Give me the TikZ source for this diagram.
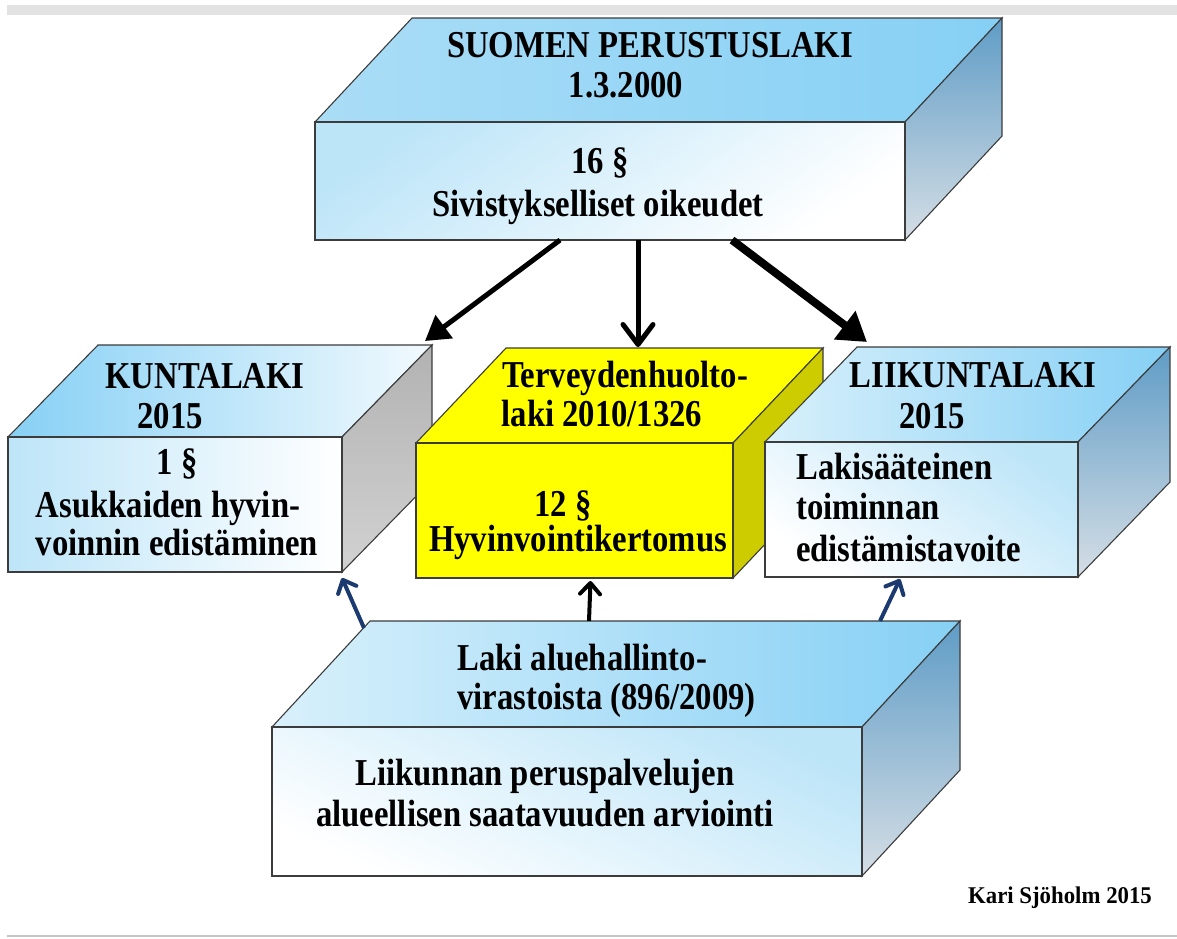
\documentclass[tikz,border=0pt]{standalone}
\usepackage{fontspec}
\setmainfont{Liberation Serif}[FakeStretch=0.86]
\newfontfamily\sigfont{Liberation Serif}[FakeStretch=0.95]
\usetikzlibrary{arrows.meta}
\definecolor{edgec}{HTML}{3C3C3C}
\definecolor{bandc}{HTML}{E2E2E2}
\definecolor{linec}{HTML}{C4C4C4}
\definecolor{skyA}{HTML}{86D0F5}
\definecolor{skyB}{HTML}{AADDF6}
\definecolor{skyC}{HTML}{D8F0FB}
\definecolor{skyF}{HTML}{BDE5F8}
\definecolor{steelA}{HTML}{5F9CC6}
\definecolor{steelB}{HTML}{D5DEE5}
\definecolor{greyS}{HTML}{C6C6C6}
\definecolor{ylw}{HTML}{FFFF00}
\definecolor{ylwD}{HTML}{CCCC00}
\definecolor{navy}{HTML}{1B3B70}
\newcommand\solidbox[7]{%
  \coordinate (#1-bl) at (#2+#6,#3-#7);
  \coordinate (#1-br) at (#4+#6,#3-#7);
  \shade[edge,#1top] (#2,#3) -- (#1-bl) -- (#1-br) -- (#4,#3) -- cycle;
  \shade[edge,#1side] (#4,#3) -- (#1-br) -- (#4+#6,#5-#7) -- (#4,#5) -- cycle;
  \node[edge,#1front,anchor=north west,inner sep=0pt,outer sep=0pt,
        minimum width={(#4-#2)*1pt}, minimum height={(#5-#3)*1pt}] (#1) at (#2,#3) {};
}
\begin{document}
\begin{tikzpicture}[x=1pt,y=-1pt,
  edge/.style={draw=edgec, line width=1.1pt, line join=miter},
  txt/.style={font=\fontsize{38}{44}\selectfont\bfseries, inner sep=0pt},
  sig/.style={font=\sigfont\fontsize{24}{28}\selectfont\bfseries, inner sep=0pt},
  tptop/.style={left color=skyB, right color=skyA},
  tpside/.style={top color=steelA, bottom color=steelB},
  tpfront/.style={shade, top color=skyF, bottom color=white, shading angle=35},
  kltop/.style={left color=skyA, right color=white!85!skyB},
  klside/.style={top color=greyS!90!black, bottom color=greyS!80!white},
  klfront/.style={shade, left color=skyF, right color=white},
  yltop/.style={top color=ylw, bottom color=ylw},
  ylside/.style={top color=ylwD, bottom color=ylwD},
  ylfront/.style={shade, top color=ylw, bottom color=ylw},
  rttop/.style={left color=skyC, right color=skyA},
  rtside/.style={top color=steelA, bottom color=steelB},
  rtfront/.style={shade, top color=skyF, bottom color=white, shading angle=-35},
  bttop/.style={left color=skyC, right color=skyA},
  btside/.style={top color=steelA, bottom color=steelB},
  btfront/.style={shade, top color=skyF, bottom color=white, shading angle=-25},
  bigarrow/.style={draw=black, line width=5pt},
  smallarrow/.style={line width=4pt}
]
\useasboundingbox (0,0) rectangle (1177,938);
\fill[bandc] (7,5) rectangle (1177,15);
\draw[linec, line width=2pt] (7,936) -- (1177,936);

% boxes
\solidbox{tp}{315}{122}{905}{240}{97}{104}
\solidbox{kl}{8}{437}{342}{572}{90}{92}
\solidbox{yl}{416}{443}{733}{578}{90}{95}
\solidbox{rt}{765}{442}{1078}{577}{92}{95}
\solidbox{bt}{272}{727}{862}{876}{98}{106}

% texts
\node[txt, anchor=base] (t1) at (650,57) {SUOMEN PERUSTUSLAKI};
\node[txt, anchor=base] (t2) at (626,97) {1.3.2000};
\node[txt, anchor=base] (t3) at (600,173) {16 §};
\node[txt, anchor=base] (t4) at (598,216) {Sivistykselliset oikeudet};
\node[txt, anchor=base] (k1) at (205,388) {KUNTALAKI};
\node[txt, anchor=base] (k2) at (170,428) {2015};
\node[txt, anchor=base] (k3) at (177,474) {1 §};
\node[txt, anchor=base] (k4) at (168,517) {Asukkaiden hyvin-};
\node[txt, anchor=base] (k5) at (177,555) {voinnin edistäminen};
\node[txt, anchor=base] (y1) at (625,387) {Terveydenhuolto-};
\node[txt, anchor=base] (y2) at (602,426) {laki 2010/1326};
\node[txt, anchor=base] (y3) at (563,516) {12 §};
\node[txt, anchor=base] (y4) at (578,551) {Hyvinvointikertomus};
\node[txt, anchor=base] (r1) at (973,387) {LIIKUNTALAKI};
\node[txt, anchor=base] (r2) at (932,428) {2015};
\node[txt, anchor=base west] (r3) at (796,479) {Lakisääteinen};
\node[txt, anchor=base west] (r4) at (796,519) {toiminnan};
\node[txt, anchor=base west] (r5) at (796,561) {edistämistavoite};
\node[txt, anchor=base west] (b1) at (457,670) {Laki aluehallinto-};
\node[txt, anchor=base west] (b2) at (457,709) {virastoista (896/2009)};
\node[txt, anchor=base] (b3) at (545,785) {Liikunnan peruspalvelujen};
\node[txt, anchor=base] (b4) at (545,826) {alueellisen saatavuuden arviointi};
\node[sig, anchor=base] (s1) at (1060,903) {Kari Sjöholm 2015};

% arrows from the constitution
\draw[bigarrow, -{Triangle[length=24pt,width=28pt]}]
  ([xshift=-50pt]tp.south) -- ([xshift=-7pt,yshift=4pt]kl-br);
\draw[bigarrow, -{Straight Barb[length=20pt,width=30pt,round]}]
  ([xshift=28pt]tp.south) -- ([xshift=132pt,yshift=1pt]yl-bl);
\draw[bigarrow, line width=8pt, -{Triangle[length=28pt,width=34pt]}]
  ([xshift=122pt]tp.south) -- ([xshift=10pt,yshift=5pt]rt-bl);

% arrows from the regional administration law
\draw[smallarrow, draw=navy, -{Straight Barb[length=11pt,width=20pt,round]}]
  ([xshift=-6pt,yshift=-7pt]bt-bl) -- ([yshift=-6pt]kl.south east);
\draw[smallarrow, draw=black, -{Straight Barb[length=11pt,width=20pt,round]}]
  ([xshift=219pt]bt-bl) -- ([xshift=16pt,yshift=-3pt]yl.south);
\draw[smallarrow, draw=navy, -{Straight Barb[length=11pt,width=20pt,round]}]
  ([xshift=510pt]bt-bl) -- ([xshift=135pt,yshift=-2pt]rt.south west);
\end{tikzpicture}
\end{document}
